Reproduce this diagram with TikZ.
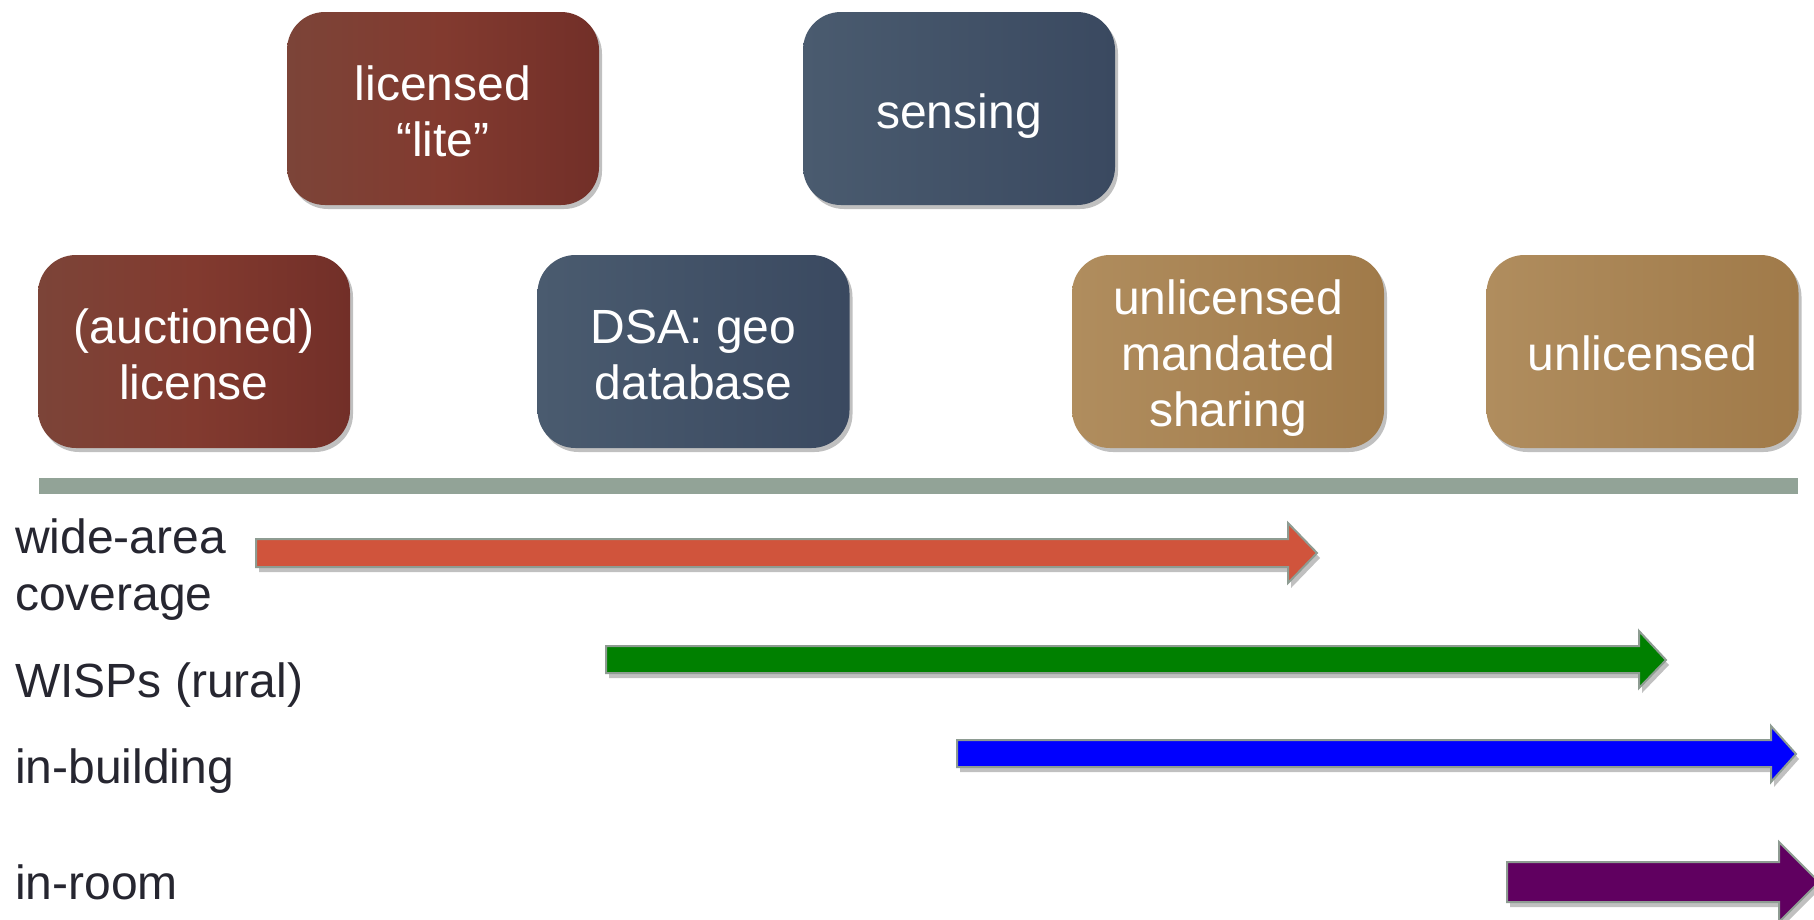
\documentclass[tikz,border=0pt]{standalone}
\usepackage{fontspec}
\setmainfont{Liberation Sans}
\usetikzlibrary{shadows}
\definecolor{redL}{HTML}{7C4438}
\definecolor{redM}{HTML}{823A2F}
\definecolor{redR}{HTML}{722F28}
\definecolor{blueL}{HTML}{4A5B6F}
\definecolor{blueR}{HTML}{3A4960}
\definecolor{goldL}{HTML}{B08D5E}
\definecolor{goldR}{HTML}{A07A49}
\definecolor{barcol}{HTML}{92A397}
\definecolor{edgecol}{HTML}{8E9C92}
\definecolor{labcol}{HTML}{262630}
\definecolor{arrRed}{HTML}{D0543C}
\definecolor{arrGreen}{HTML}{008000}
\definecolor{arrBlue}{HTML}{0000FF}
\definecolor{arrPurple}{HTML}{600060}
\tikzset{
  boxnode/.style={rectangle, rounded corners=38pt, minimum width=312pt, minimum height=193pt,
    inner sep=0pt,
    drop shadow={shadow xshift=3pt, shadow yshift=-4pt, opacity=0.35, fill=black!70}},
  boxtext/.style={inner sep=0pt, align=center, text=white, font=\fontsize{48}{56}\selectfont},
  redbox/.style={boxnode, left color=redL, right color=redR, middle color=redM},
  bluebox/.style={boxnode, left color=blueL, right color=blueR},
  goldbox/.style={boxnode, left color=goldL, right color=goldR},
  lab/.style={anchor=base west, inner sep=0pt, text=labcol, font=\fontsize{48}{56}\selectfont},
  bigarrow/.style={draw=edgecol, line width=2pt, line join=miter,
    drop shadow={shadow xshift=3pt, shadow yshift=-5pt, opacity=0.35, fill=black!70}}
}
\begin{document}
\begin{tikzpicture}[x=1pt,y=-1pt]
\clip (0,0) rectangle (1814,919);
\fill[white] (0,0) rectangle (1814,919);

% boxes
\node[redbox]  (lite)    at (443,108.5)  {};
\node[bluebox] (sensing) at (959,108.5)  {};
\node[redbox]  (auction) at (194,351.5)  {};
\node[bluebox] (dsa)     at (693.5,351.5) {};
\node[goldbox] (ums)     at (1228,351.5) {};
\node[goldbox] (unl)     at (1642.5,351.5) {};

\node[boxtext] (liteT)    at ([yshift=-3pt]lite.center)    {licensed\\“lite”};
\node[boxtext] (sensingT) at ([yshift=-8pt]sensing.center) {sensing};
\node[boxtext] (auctionT) at ([yshift=-3pt]auction.center) {(auctioned)\\license};
\node[boxtext] (dsaT)     at ([yshift=-3pt]dsa.center)     {DSA: geo\\database};
\node[boxtext] (umsT)     at ([yshift=-7pt]ums.center)     {unlicensed\\mandated\\sharing};
\node[boxtext] (unlT)     at ([yshift=-2pt]unl.center)     {unlicensed};

% bar
\fill[barcol] (39,478) rectangle (1798,494);

% labels
\node[lab] (wa1) at (15,553) {wide-area};
\node[lab] (wa2) at (15,610) {coverage};
\node[lab] (wisp) at (15,697) {WISPs (rural)};
\node[lab] (inb) at (15,783) {in-building};
\node[lab] (inr) at (15,899) {in-room};

% arrows
\path[bigarrow, fill=arrRed] (256,539) -- (1288,539) -- (1288,523) -- (1317,553) -- (1288,583) -- (1288,567) -- (256,567) -- cycle;
\path[bigarrow, fill=arrGreen] (606,646) -- (1639,646) -- (1639,631) -- (1666,660) -- (1639,688) -- (1639,673) -- (606,673) -- cycle;
\path[bigarrow, fill=arrBlue] (957,740) -- (1771,740) -- (1771,726) -- (1796,754) -- (1771,782) -- (1771,767) -- (957,767) -- cycle;
\path[bigarrow, fill=arrPurple] (1507,862) -- (1779,862) -- (1779,842) -- (1819,882) -- (1779,922) -- (1779,902) -- (1507,902) -- cycle;
\end{tikzpicture}
\end{document}
